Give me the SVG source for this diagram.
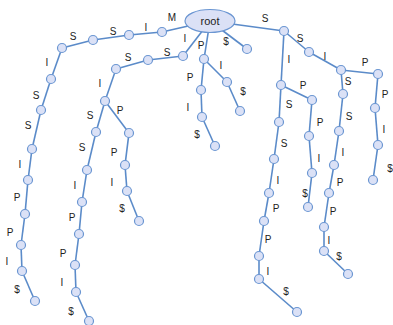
<svg xmlns="http://www.w3.org/2000/svg" width="393" height="325" viewBox="0 0 393 325">
<style>
.e{stroke:#5b8bc9;stroke-width:1.6;fill:none}
.n{fill:#dbe1f6;stroke:#6b96d2;stroke-width:1.2}
.l{font-family:"Liberation Sans",Arial,sans-serif;font-size:10px;fill:#222;text-anchor:middle}
.r{font-family:"Liberation Sans",Arial,sans-serif;font-size:11px;fill:#222;text-anchor:middle}
</style>
<rect width="393" height="325" fill="#fff"/>
<g id="connectors">
<line class="e" x1="210" y1="21" x2="162" y2="32"/>
<line class="e" x1="162" y1="32" x2="129" y2="35"/>
<line class="e" x1="129" y1="35" x2="93" y2="40"/>
<line class="e" x1="93" y1="40" x2="62" y2="48"/>
<line class="e" x1="62" y1="48" x2="51" y2="79"/>
<line class="e" x1="51" y1="79" x2="41" y2="110"/>
<line class="e" x1="41" y1="110" x2="32" y2="149"/>
<line class="e" x1="32" y1="149" x2="28" y2="180"/>
<line class="e" x1="28" y1="180" x2="25" y2="214"/>
<line class="e" x1="25" y1="214" x2="21" y2="245"/>
<line class="e" x1="21" y1="245" x2="22" y2="271"/>
<line class="e" x1="22" y1="271" x2="35" y2="301"/>
<line class="e" x1="210" y1="21" x2="183" y2="56"/>
<line class="e" x1="183" y1="56" x2="148" y2="60"/>
<line class="e" x1="148" y1="60" x2="116" y2="69"/>
<line class="e" x1="116" y1="69" x2="105" y2="101"/>
<line class="e" x1="105" y1="101" x2="96" y2="132"/>
<line class="e" x1="96" y1="132" x2="87" y2="170"/>
<line class="e" x1="87" y1="170" x2="82" y2="202"/>
<line class="e" x1="82" y1="202" x2="79" y2="234"/>
<line class="e" x1="79" y1="234" x2="75" y2="265"/>
<line class="e" x1="75" y1="265" x2="76" y2="292"/>
<line class="e" x1="76" y1="292" x2="89" y2="321"/>
<line class="e" x1="105" y1="101" x2="129" y2="133"/>
<line class="e" x1="129" y1="133" x2="125" y2="165"/>
<line class="e" x1="125" y1="165" x2="127" y2="191"/>
<line class="e" x1="127" y1="191" x2="139" y2="221"/>
<line class="e" x1="210" y1="21" x2="204" y2="59"/>
<line class="e" x1="204" y1="59" x2="201" y2="90"/>
<line class="e" x1="201" y1="90" x2="202" y2="117"/>
<line class="e" x1="202" y1="117" x2="215" y2="146"/>
<line class="e" x1="204" y1="59" x2="227" y2="82"/>
<line class="e" x1="227" y1="82" x2="240" y2="111"/>
<line class="e" x1="210" y1="21" x2="247" y2="49"/>
<line class="e" x1="210" y1="21" x2="284" y2="31"/>
<line class="e" x1="284" y1="31" x2="309" y2="52"/>
<line class="e" x1="309" y1="52" x2="341" y2="70"/>
<line class="e" x1="341" y1="70" x2="378" y2="74"/>
<line class="e" x1="378" y1="74" x2="375" y2="108"/>
<line class="e" x1="375" y1="108" x2="378" y2="145"/>
<line class="e" x1="378" y1="145" x2="373" y2="180"/>
<line class="e" x1="341" y1="70" x2="343" y2="94"/>
<line class="e" x1="343" y1="94" x2="339" y2="131"/>
<line class="e" x1="339" y1="131" x2="334" y2="165"/>
<line class="e" x1="334" y1="165" x2="329" y2="193"/>
<line class="e" x1="329" y1="193" x2="324" y2="227"/>
<line class="e" x1="324" y1="227" x2="324" y2="251"/>
<line class="e" x1="324" y1="251" x2="348" y2="274"/>
<line class="e" x1="284" y1="31" x2="281" y2="85"/>
<line class="e" x1="281" y1="85" x2="279" y2="122"/>
<line class="e" x1="279" y1="122" x2="274" y2="159"/>
<line class="e" x1="274" y1="159" x2="269" y2="193"/>
<line class="e" x1="269" y1="193" x2="264" y2="221"/>
<line class="e" x1="264" y1="221" x2="259" y2="256"/>
<line class="e" x1="259" y1="256" x2="259" y2="279"/>
<line class="e" x1="259" y1="279" x2="297" y2="312"/>
<line class="e" x1="281" y1="85" x2="312" y2="100"/>
<line class="e" x1="312" y1="100" x2="309" y2="136"/>
<line class="e" x1="309" y1="136" x2="312" y2="173"/>
<line class="e" x1="312" y1="173" x2="308" y2="207"/>
</g>
<g id="root"><ellipse class="n" cx="210" cy="21" rx="25" ry="11.5"/><text class="r" x="210" y="25">root</text></g>
<g id="m1"><circle class="n" cx="162" cy="32" r="4.5"/><text class="l" x="172" y="21">M</text></g>
<g id="m2"><circle class="n" cx="129" cy="35" r="4.5"/><text class="l" x="146" y="31">I</text></g>
<g id="m3"><circle class="n" cx="93" cy="40" r="4.5"/><text class="l" x="113" y="35">S</text></g>
<g id="m4"><circle class="n" cx="62" cy="48" r="4.5"/><text class="l" x="73" y="40">S</text></g>
<g id="m5"><circle class="n" cx="51" cy="79" r="4.5"/><text class="l" x="47" y="66">I</text></g>
<g id="m6"><circle class="n" cx="41" cy="110" r="4.5"/><text class="l" x="36" y="99">S</text></g>
<g id="m7"><circle class="n" cx="32" cy="149" r="4.5"/><text class="l" x="28" y="129">S</text></g>
<g id="m8"><circle class="n" cx="28" cy="180" r="4.5"/><text class="l" x="20" y="168">I</text></g>
<g id="m9"><circle class="n" cx="25" cy="214" r="4.5"/><text class="l" x="17" y="201">P</text></g>
<g id="m10"><circle class="n" cx="21" cy="245" r="4.5"/><text class="l" x="10" y="236">P</text></g>
<g id="m11"><circle class="n" cx="22" cy="271" r="4.5"/><text class="l" x="7" y="265">I</text></g>
<g id="m12"><circle class="n" cx="35" cy="301" r="4.5"/><text class="l" x="17" y="293">$</text></g>
<g id="i1"><circle class="n" cx="183" cy="56" r="4.5"/><text class="l" x="185" y="42">I</text></g>
<g id="i2"><circle class="n" cx="148" cy="60" r="4.5"/><text class="l" x="167" y="56">S</text></g>
<g id="i3"><circle class="n" cx="116" cy="69" r="4.5"/><text class="l" x="128" y="61">S</text></g>
<g id="i4"><circle class="n" cx="105" cy="101" r="4.5"/><text class="l" x="100" y="87">I</text></g>
<g id="i5"><circle class="n" cx="96" cy="132" r="4.5"/><text class="l" x="90" y="119">S</text></g>
<g id="i6"><circle class="n" cx="87" cy="170" r="4.5"/><text class="l" x="82" y="151">S</text></g>
<g id="i7"><circle class="n" cx="82" cy="202" r="4.5"/><text class="l" x="75" y="189">I</text></g>
<g id="i8"><circle class="n" cx="79" cy="234" r="4.5"/><text class="l" x="72" y="221">P</text></g>
<g id="i9"><circle class="n" cx="75" cy="265" r="4.5"/><text class="l" x="63" y="257">P</text></g>
<g id="i10"><circle class="n" cx="76" cy="292" r="4.5"/><text class="l" x="62" y="286">I</text></g>
<g id="i11"><circle class="n" cx="89" cy="321" r="4.5"/><text class="l" x="71" y="315">$</text></g>
<g id="ip1"><circle class="n" cx="129" cy="133" r="4.5"/><text class="l" x="120" y="114">P</text></g>
<g id="ip2"><circle class="n" cx="125" cy="165" r="4.5"/><text class="l" x="114" y="156">P</text></g>
<g id="ip3"><circle class="n" cx="127" cy="191" r="4.5"/><text class="l" x="112" y="186">I</text></g>
<g id="ip4"><circle class="n" cx="139" cy="221" r="4.5"/><text class="l" x="122" y="212">$</text></g>
<g id="p1"><circle class="n" cx="204" cy="59" r="4.5"/><text class="l" x="201" y="49">P</text></g>
<g id="p2"><circle class="n" cx="201" cy="90" r="4.5"/><text class="l" x="190" y="81">P</text></g>
<g id="p3"><circle class="n" cx="202" cy="117" r="4.5"/><text class="l" x="188" y="111">I</text></g>
<g id="p4"><circle class="n" cx="215" cy="146" r="4.5"/><text class="l" x="197" y="138">$</text></g>
<g id="pi1"><circle class="n" cx="227" cy="82" r="4.5"/><text class="l" x="221" y="69">I</text></g>
<g id="pi2"><circle class="n" cx="240" cy="111" r="4.5"/><text class="l" x="243" y="95">$</text></g>
<g id="d1"><circle class="n" cx="247" cy="49" r="4.5"/><text class="l" x="226" y="45">$</text></g>
<g id="s1"><circle class="n" cx="284" cy="31" r="4.5"/><text class="l" x="265" y="22">S</text></g>
<g id="s2"><circle class="n" cx="309" cy="52" r="4.5"/><text class="l" x="300" y="42">S</text></g>
<g id="s3"><circle class="n" cx="341" cy="70" r="4.5"/><text class="l" x="325" y="60">I</text></g>
<g id="s4"><circle class="n" cx="378" cy="74" r="4.5"/><text class="l" x="365" y="66">P</text></g>
<g id="s5"><circle class="n" cx="375" cy="108" r="4.5"/><text class="l" x="385" y="98">P</text></g>
<g id="s6"><circle class="n" cx="378" cy="145" r="4.5"/><text class="l" x="384" y="133">I</text></g>
<g id="s7"><circle class="n" cx="373" cy="180" r="4.5"/><text class="l" x="390" y="172">$</text></g>
<g id="ss1"><circle class="n" cx="343" cy="94" r="4.5"/><text class="l" x="348" y="85">S</text></g>
<g id="ss2"><circle class="n" cx="339" cy="131" r="4.5"/><text class="l" x="349" y="120">S</text></g>
<g id="ss3"><circle class="n" cx="334" cy="165" r="4.5"/><text class="l" x="343" y="156">I</text></g>
<g id="ss4"><circle class="n" cx="329" cy="193" r="4.5"/><text class="l" x="340" y="186">P</text></g>
<g id="ss5"><circle class="n" cx="324" cy="227" r="4.5"/><text class="l" x="333" y="215">P</text></g>
<g id="ss6"><circle class="n" cx="324" cy="251" r="4.5"/><text class="l" x="329" y="244">I</text></g>
<g id="ss7"><circle class="n" cx="348" cy="274" r="4.5"/><text class="l" x="339" y="260">$</text></g>
<g id="si1"><circle class="n" cx="281" cy="85" r="4.5"/><text class="l" x="289" y="63">I</text></g>
<g id="si2"><circle class="n" cx="279" cy="122" r="4.5"/><text class="l" x="289" y="108">S</text></g>
<g id="si3"><circle class="n" cx="274" cy="159" r="4.5"/><text class="l" x="284" y="147">S</text></g>
<g id="si4"><circle class="n" cx="269" cy="193" r="4.5"/><text class="l" x="278" y="184">I</text></g>
<g id="si5"><circle class="n" cx="264" cy="221" r="4.5"/><text class="l" x="276" y="212">P</text></g>
<g id="si6"><circle class="n" cx="259" cy="256" r="4.5"/><text class="l" x="268" y="243">P</text></g>
<g id="si7"><circle class="n" cx="259" cy="279" r="4.5"/><text class="l" x="268" y="275">I</text></g>
<g id="si8"><circle class="n" cx="297" cy="312" r="4.5"/><text class="l" x="286" y="295">$</text></g>
<g id="sp1"><circle class="n" cx="312" cy="100" r="4.5"/><text class="l" x="303" y="89">P</text></g>
<g id="sp2"><circle class="n" cx="309" cy="136" r="4.5"/><text class="l" x="320" y="126">P</text></g>
<g id="sp3"><circle class="n" cx="312" cy="173" r="4.5"/><text class="l" x="319" y="162">I</text></g>
<g id="sp4"><circle class="n" cx="308" cy="207" r="4.5"/><text class="l" x="305" y="197">$</text></g>
</svg>
